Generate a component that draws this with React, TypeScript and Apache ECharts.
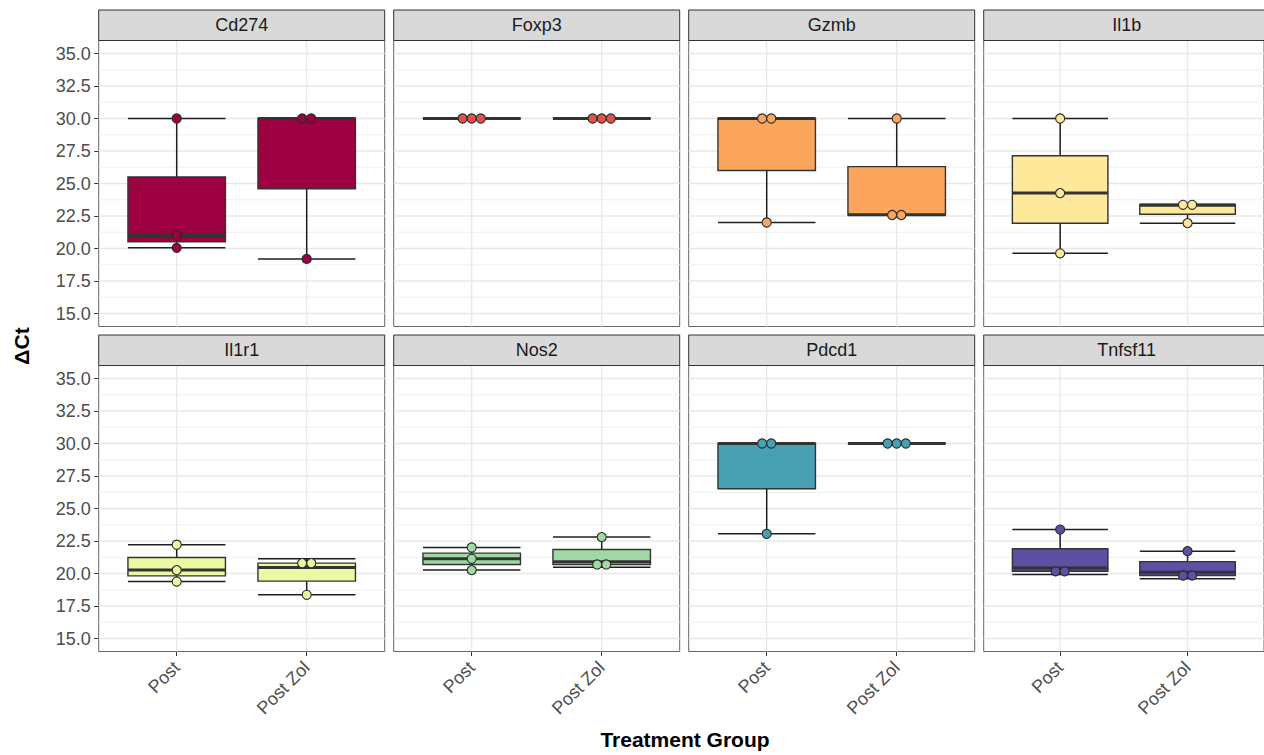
import { useEffect, useRef } from "react";
import * as echarts from "echarts";

// ΔCt per gene and treatment group (three animals each)
const genes = ["Cd274", "Foxp3", "Gzmb", "Il1b", "Il1r1", "Nos2", "Pdcd1", "Tnfsf11"];
const groups = ["Post", "Post Zol"];
const postValues = [
  [20.05, 21.0, 30.0],
  [30.0, 30.0, 30.0],
  [22.0, 30.0, 30.0],
  [19.63, 24.26, 30.0],
  [19.38, 20.26, 22.21],
  [20.26, 21.13, 22.0],
  [23.05, 30.0, 30.0],
  [19.92, 20.42, 23.38],
];
const postZolValues = [
  [19.2, 30.0, 30.0],
  [30.0, 30.0, 30.0],
  [22.55, 22.6, 30.0],
  [21.95, 23.32, 23.4],
  [18.36, 20.46, 21.13],
  [20.49, 20.9, 22.8],
  [30.0, 30.0, 30.0],
  [19.59, 20.1, 21.72],
];
const geneColors = ["#9E0142", "#E2524A", "#FCA55D", "#FEE99A", "#EDF8A3", "#A1D9A4", "#48A1B3", "#5E4FA2"];
const yTicks = [15, 17.5, 20, 22.5, 25, 27.5, 30, 32.5, 35];
const yMinorTicks = [16.25, 18.75, 21.25, 23.75, 26.25, 28.75, 31.25, 33.75];
const yRange = [14, 36];
const xRange = [0.4, 2.6];
const binWidth = 0.7;
const boxWidth = 0.75;

const FONT = "'Liberation Sans', Arial, Helvetica, sans-serif";

// layout
const panelLeft0 = 98.7;
const panelStep = 295;
const panelW = 286;
const panelH = 286;
const rowTops = [40.5, 365.5];
const stripH = 30.5;

function quantile(sorted: number[], p: number) {
  const h = (sorted.length - 1) * p;
  const lo = Math.floor(h);
  const hi = Math.ceil(h);
  return sorted[lo] + (h - lo) * (sorted[hi] - sorted[lo]);
}

function boxStats(vals: number[]) {
  const s = [...vals].sort((a, b) => a - b);
  const q1 = quantile(s, 0.25);
  const md = quantile(s, 0.5);
  const q3 = quantile(s, 0.75);
  const iqr = q3 - q1;
  const lo = s.find((v) => v >= q1 - 1.5 * iqr) as number;
  const hi = [...s].reverse().find((v) => v <= q3 + 1.5 * iqr) as number;
  return [lo, q1, md, q3, hi];
}

// dot-density binning along y
function dotBins(vals: number[]) {
  const s = [...vals].sort((a, b) => a - b);
  const bins: number[][] = [];
  let end = -Infinity;
  s.forEach((v) => {
    if (v >= end) {
      bins.push([v]);
      end = v + binWidth;
    } else {
      bins[bins.length - 1].push(v);
    }
  });
  return bins.map((b) => ({ center: (b[0] + b[b.length - 1]) / 2, count: b.length }));
}

function buildOption() {
  const grids: any[] = [];
  const xAxes: any[] = [];
  const yAxes: any[] = [];
  const series: any[] = [];
  const graphics: any[] = [];

  genes.forEach((gene, i) => {
    const row = Math.floor(i / 4);
    const col = i % 4;
    const left = panelLeft0 + col * panelStep;
    const top = rowTops[row];
    const color = geneColors[i];

    grids.push({
      left,
      top,
      width: panelW,
      height: panelH,
      show: true,
      backgroundColor: "#ffffff",
      borderColor: "#666666",
      borderWidth: 1,
    });

    const bottomRow = row === 1;
    xAxes.push({
      type: "value",
      gridIndex: i,
      min: xRange[0],
      max: xRange[1],
      axisLine: { show: false },
      splitLine: { show: false },
      axisTick: {
        show: bottomRow,
        customValues: [1, 2],
        length: 4.5,
        lineStyle: { color: "#333333", width: 1 },
      },
      axisLabel: {
        show: bottomRow,
        customValues: [1, 2],
        formatter: (v: number) => groups[Math.round(v) - 1] ?? "",
        rotate: 45,
        margin: 13,
        fontSize: 18,
        color: "#4d4d4d",
        fontFamily: FONT,
      },
    });

    const leftCol = col === 0;
    yAxes.push({
      type: "value",
      gridIndex: i,
      min: yRange[0],
      max: yRange[1],
      axisLine: { show: false },
      splitLine: { show: false },
      axisTick: {
        show: leftCol,
        customValues: yTicks,
        length: 4.5,
        lineStyle: { color: "#333333", width: 1 },
      },
      axisLabel: {
        show: leftCol,
        customValues: yTicks,
        formatter: (v: number) => v.toFixed(1),
        margin: 8,
        fontSize: 18,
        color: "#4d4d4d",
        fontFamily: FONT,
      },
    });

    // panel grid lines
    const gridData: number[][] = [];
    yMinorTicks.forEach((v) => gridData.push([1, v, 1]));
    yTicks.forEach((v) => gridData.push([1, v, 0]));
    [1, 2].forEach((c) => gridData.push([c, 25, 2]));
    series.push({
      type: "custom",
      xAxisIndex: i,
      yAxisIndex: i,
      silent: true,
      z: 1,
      data: gridData,
      renderItem: (params: any, api: any) => {
        const cs = params.coordSys;
        const kind = api.value(2);
        if (kind === 2) {
          const x = api.coord([api.value(0), api.value(1)])[0];
          return {
            type: "line",
            shape: { x1: x, y1: cs.y, x2: x, y2: cs.y + cs.height },
            style: { stroke: "#e8e8e8", lineWidth: 1.3 },
          };
        }
        const y = api.coord([api.value(0), api.value(1)])[1];
        return {
          type: "line",
          shape: { x1: cs.x, y1: y, x2: cs.x + cs.width, y2: y },
          style: { stroke: kind === 0 ? "#e8e8e8" : "#efefef", lineWidth: kind === 0 ? 1.3 : 1 },
        };
      },
    });

    // boxes with whiskers
    const boxData = [postValues[i], postZolValues[i]].map((vals, g) => [g + 1, ...boxStats(vals)]);
    series.push({
      type: "custom",
      xAxisIndex: i,
      yAxisIndex: i,
      z: 2,
      encode: { x: 0, y: [1, 2, 3, 4, 5] },
      data: boxData,
      renderItem: (_params: any, api: any) => {
        const c = api.value(0);
        const mn = api.value(1);
        const q1 = api.value(2);
        const md = api.value(3);
        const q3 = api.value(4);
        const mx = api.value(5);
        const h = boxWidth / 2;
        const xl = api.coord([c - h, mn])[0];
        const xr = api.coord([c + h, mn])[0];
        const xc = api.coord([c, mn])[0];
        const yMn = api.coord([c, mn])[1];
        const yMx = api.coord([c, mx])[1];
        const yQ1 = api.coord([c, q1])[1];
        const yQ3 = api.coord([c, q3])[1];
        const yMd = api.coord([c, md])[1];
        const whisker = { stroke: "#1f1f1f", lineWidth: 1.5 };
        return {
          type: "group",
          children: [
            { type: "line", shape: { x1: xc, y1: yMx, x2: xc, y2: yMn }, style: whisker },
            { type: "line", shape: { x1: xl, y1: yMx, x2: xr, y2: yMx }, style: whisker },
            { type: "line", shape: { x1: xl, y1: yMn, x2: xr, y2: yMn }, style: whisker },
            {
              type: "rect",
              shape: { x: xl, y: yQ3, width: xr - xl, height: yQ1 - yQ3 },
              style: { fill: color, stroke: "#333333", lineWidth: 1.4 },
            },
            {
              type: "line",
              shape: { x1: xl, y1: yMd, x2: xr, y2: yMd },
              style: { stroke: "#333333", lineWidth: 3 },
            },
          ],
        };
      },
    });

    // individual animals, stacked dots
    const dotData: number[][] = [];
    [postValues[i], postZolValues[i]].forEach((vals, g) => {
      dotBins(vals).forEach((b) => {
        for (let k = 0; k < b.count; k++) dotData.push([g + 1, b.center, k, b.count]);
      });
    });
    series.push({
      type: "custom",
      xAxisIndex: i,
      yAxisIndex: i,
      z: 3,
      data: dotData,
      renderItem: (_params: any, api: any) => {
        const p = api.coord([api.value(0), api.value(1)]);
        const d = api.size([0, binWidth])[1];
        const k = api.value(2);
        const n = api.value(3);
        return {
          type: "circle",
          shape: { cx: p[0] + (k - (n - 1) / 2) * d, cy: p[1], r: d / 2 },
          style: { fill: color, stroke: "#2a2a2a", lineWidth: 1.1 },
        };
      },
    });

    // facet strip
    graphics.push({
      type: "rect",
      shape: { x: left, y: top - stripH, width: panelW, height: stripH },
      style: { fill: "#d9d9d9", stroke: "#333333", lineWidth: 1 },
      z: 10,
    });
    graphics.push({
      type: "text",
      x: left + panelW / 2,
      y: top - stripH / 2,
      style: {
        text: gene,
        align: "center",
        verticalAlign: "middle",
        fontSize: 18,
        fill: "#1a1a1a",
        fontFamily: FONT,
      },
      z: 11,
    });
  });

  graphics.push({
    type: "text",
    x: 21,
    y: 346,
    rotation: Math.PI / 2,
    style: {
      text: "ΔCt",
      align: "center",
      verticalAlign: "middle",
      fontSize: 21,
      fontWeight: "bold",
      fill: "#000000",
      fontFamily: FONT,
    },
    z: 11,
  });
  graphics.push({
    type: "text",
    x: 685,
    y: 739,
    style: {
      text: "Treatment Group",
      align: "center",
      verticalAlign: "middle",
      fontSize: 21,
      fontWeight: "bold",
      fill: "#000000",
      fontFamily: FONT,
    },
    z: 11,
  });

  return {
    animation: false,
    backgroundColor: "#ffffff",
    grid: grids,
    xAxis: xAxes,
    yAxis: yAxes,
    series,
    graphic: graphics,
  };
}

export default function App() {
  const ref = useRef<HTMLDivElement>(null);
  useEffect(() => {
    if (!ref.current) return;
    const chart = echarts.init(ref.current, null, { renderer: "svg" });
    chart.setOption(buildOption() as any);
    return () => chart.dispose();
  }, []);
  return (
    <div
      ref={ref}
      style={{ position: "fixed", left: 0, top: 0, width: 1264, height: 755, background: "#fff" }}
    />
  );
}
